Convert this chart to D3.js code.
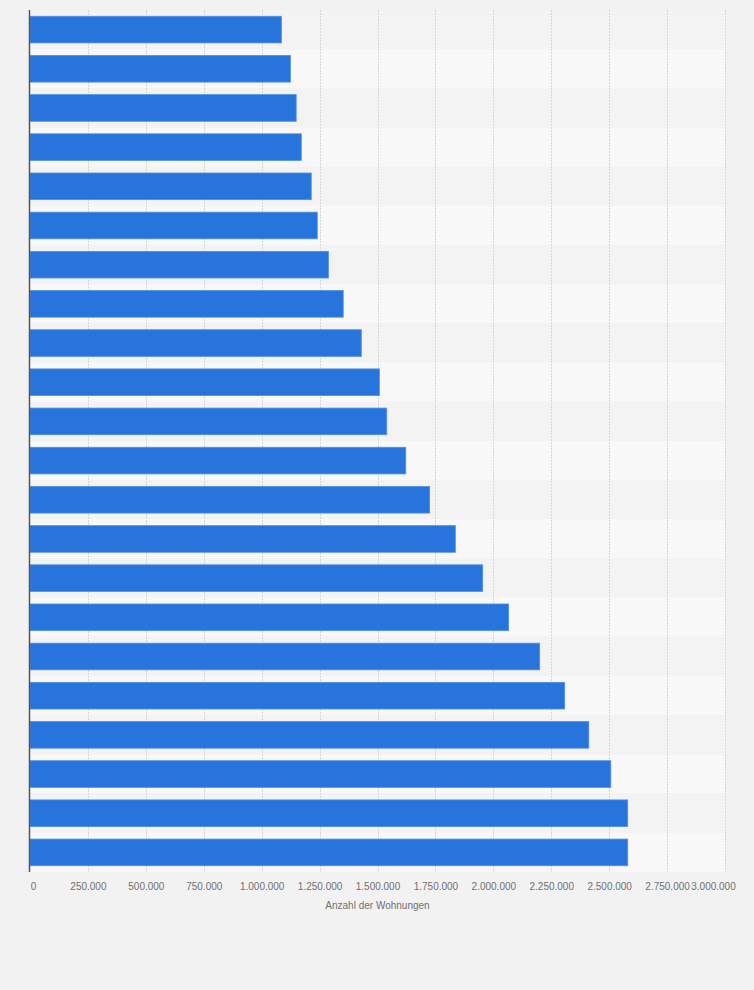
<!DOCTYPE html>
<html>
<head>
<meta charset="utf-8">
<script src="https://cdn.jsdelivr.net/npm/d3@7"></script>
<style>
  body { margin: 0; background: #f2f2f2; }
  svg { display: block; }
</style>
</head>
<body>
<svg id="drawing_region"></svg>
<script>
// categories are not labelled in the picture, only ranked
const categories = d3.range(1, 23).map(d => 'Rang ' + d);
const values = [1085000, 1124000, 1149000, 1171000, 1214000, 1240000, 1288000,
    1352000, 1430000, 1508000, 1540000, 1622000, 1725000, 1836000, 1954000,
    2066000, 2200000, 2308000, 2412000, 2507000, 2580000, 2580000];
const tickValues = [0, 250000, 500000, 750000, 1000000, 1250000, 1500000,
    1750000, 2000000, 2250000, 2500000, 2750000, 3000000];
const axisTitle = 'Anzahl der Wohnungen';

const data = categories.map((c, i) => ({ label: c, value: values[i] }));

class BarChart {

    constructor(config, data) {
        this.config = config;
        this.data = data;
        this.init();
    }

    init() {
        let self = this;
        self.svg = d3.select(self.config.parent)
            .attr('width', self.config.width)
            .attr('height', self.config.height);

        self.xscale = d3.scaleLinear()
            .domain([0, 3000000])
            .range([self.config.left, self.config.right]);

        self.yscale = d3.scaleBand()
            .domain(self.data.map(d => d.label))
            .range([self.config.top, self.config.bottom])
            .paddingInner(0.32)
            .paddingOuter(0.16);

        self.rowscale = d3.scaleBand()
            .domain(self.data.map(d => d.label))
            .range([self.config.top, self.config.bottom]);

        const de = d3.formatLocale({ decimal: ',', thousands: '.', grouping: [3], currency: ['', '€'] });
        self.fmt = de.format(',d');
    }

    render() {
        let self = this;
        const c = self.config;

        // alternating row stripes
        self.svg.append('g').selectAll('rect')
            .data(self.data)
            .join('rect')
            .attr('x', c.left)
            .attr('y', d => self.rowscale(d.label))
            .attr('width', c.right - c.left)
            .attr('height', self.rowscale.bandwidth())
            .attr('fill', (d, i) => i % 2 ? '#f8f8f8' : '#f3f3f3');

        // grid lines
        self.svg.append('g').selectAll('line')
            .data(tickValues.filter(d => d > 0))
            .join('line')
            .attr('x1', d => Math.round(self.xscale(d)) + 0.5)
            .attr('x2', d => Math.round(self.xscale(d)) + 0.5)
            .attr('y1', c.top)
            .attr('y2', c.bottom)
            .attr('stroke', '#d6d6d6')
            .attr('stroke-dasharray', '2,1');

        // bars
        self.svg.append('g').selectAll('rect')
            .data(self.data)
            .join('rect')
            .attr('x', self.xscale(0))
            .attr('y', d => self.yscale(d.label))
            .attr('width', d => self.xscale(d.value) - self.xscale(0))
            .attr('height', self.yscale.bandwidth())
            .attr('fill', '#2775dc')
            .attr('stroke', '#4f8fe6')
            .attr('stroke-width', 0.8);

        // left axis line
        self.svg.append('line')
            .attr('x1', c.left - 0.5).attr('x2', c.left - 0.5)
            .attr('y1', c.top).attr('y2', c.bottom)
            .attr('stroke', '#555')
            .attr('stroke-width', 1.5);

        // x axis labels
        const xaxis = d3.axisBottom(self.xscale)
            .tickValues(tickValues)
            .tickFormat(self.fmt)
            .tickSize(0)
            .tickPadding(10);

        const g = self.svg.append('g')
            .attr('transform', `translate(0, ${c.bottom + 1})`)
            .call(xaxis);
        g.select('.domain').remove();
        g.selectAll('text')
            .attr('fill', '#707070')
            .style('font-family', '"Liberation Sans", Arial, sans-serif')
            .style('font-size', '10px');
        g.selectAll('text').filter(d => d === 0).attr('dx', 3);
        g.selectAll('text').filter(d => d === 3000000).attr('dx', -12);

        self.svg.append('text')
            .attr('x', (c.left + c.right) / 2)
            .attr('y', c.bottom + 37)
            .attr('text-anchor', 'middle')
            .attr('fill', '#707070')
            .style('font-family', '"Liberation Sans", Arial, sans-serif')
            .style('font-size', '10px')
            .text(axisTitle);
    }
}

const chart = new BarChart({
    parent: '#drawing_region',
    width: 754, height: 990,
    left: 30, right: 725, top: 10, bottom: 872
}, data);
chart.render();
</script>
</body>
</html>
